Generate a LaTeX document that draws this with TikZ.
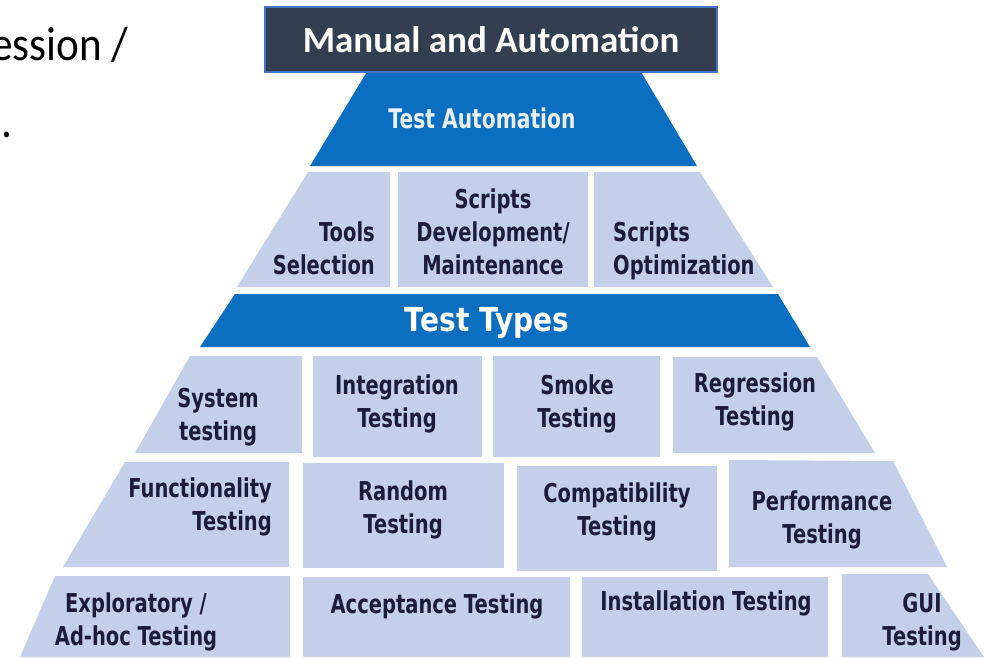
\documentclass[tikz,border=0pt]{standalone}
\usepackage{fontspec}
\setmainfont{Carlito}
\newfontfamily\pyrfont[FakeStretch=0.75]{DejaVu Sans}
\newfontfamily\typesfont[FakeStretch=0.85]{DejaVu Sans}
\newfontfamily\slidefont[FakeStretch=0.9]{Carlito}
\definecolor{cellfill}{RGB}{196,207,234}
\definecolor{barblue}{RGB}{11,110,192}
\definecolor{lbltext}{RGB}{28,28,58}
\definecolor{titlefill}{RGB}{51,63,80}
\definecolor{titleborder}{RGB}{68,114,196}
\begin{document}
\begin{tikzpicture}[x=1pt,y=-1pt,
  cell/.style={fill=cellfill},
  bar/.style={fill=barblue},
  lbl/.style={font=\pyrfont\bfseries\fontsize{26}{33}\selectfont, text=lbltext, inner sep=0pt},
  slidetext/.style={font=\slidefont\fontsize{48}{58}\selectfont, text=black, inner sep=0pt}]
\useasboundingbox (0,0) rectangle (984,657);
\fill[white] (0,0) rectangle (984,657);

% cut-off slide text
\node[slidetext, anchor=base west] (slideA) at (-9,60) {ession /};
\node[slidetext, anchor=base west] (slideB) at (1,137) {.};

% level 1: Test Automation
\fill[bar] (374,60) -- (634,60) -- (697,166) -- (310,166) -- cycle;
\node[font=\pyrfont\bfseries\fontsize{27}{33}\selectfont, text={rgb,255:red,234;green,240;blue,248}, inner sep=0pt, anchor=base] (auto) at (482,128) {Test Automation};

% title box
\node[draw=titleborder, line width=1.5pt, fill=titlefill, minimum width=452pt, minimum height=65pt, inner sep=0pt, text=white, font=\bfseries\fontsize{37}{44}\selectfont] (title) at (491,39.5) {Manual and Automation};

% level 2
\fill[cell] (308,172) -- (390,172) -- (390,287) -- (237,287) -- cycle;
\fill[cell] (398,172) rectangle (588,287);
\fill[cell] (594,172) -- (700,172) -- (773,287) -- (594,287) -- cycle;
\node[lbl, align=right, anchor=east] (tools) at (375,248) {Tools\\Selection};
\node[lbl, align=center] (dev) at (493,232) {Scripts\\Development/\\Maintenance};
\node[lbl, align=left, anchor=west] (opt) at (613,251) {Scripts\\Optimization};

% Test Types bar
\fill[bar] (235,294) -- (778,294) -- (810,347) -- (200,347) -- cycle;
\node[font=\typesfont\bfseries\fontsize{33}{40}\selectfont, text=white, inner sep=0pt, anchor=base] (types) at (487,331) {Test Types};

% level 3
\fill[cell] (190,356) -- (302,356) -- (302,453) -- (135,453) -- cycle;
\fill[cell] (313,356) rectangle (482,457);
\fill[cell] (493,356) rectangle (660,457);
\fill[cell] (673,357) -- (817,357) -- (875,453) -- (673,453) -- cycle;
\node[lbl, align=center] (sys) at (218,417) {System\\testing};
\node[lbl, align=center] (integ) at (397,403.5) {Integration\\Testing};
\node[lbl, align=center] (smoke) at (577,403.5) {Smoke\\Testing};
\node[lbl, align=center] (regr) at (755,402) {Regression\\Testing};

% level 4
\fill[cell] (125,462) -- (289,462) -- (289,567) -- (63,567) -- cycle;
\fill[cell] (303,463) rectangle (504,568);
\fill[cell] (517,466) rectangle (717,571);
\fill[cell] (729,460) -- (893,461) -- (947,567) -- (729,567) -- cycle;
\node[lbl, align=right, anchor=east] (func) at (272,507) {Functionality\\Testing};
\node[lbl, align=center] (rand) at (403,509.5) {Random\\Testing};
\node[lbl, align=center] (compat) at (617,512) {Compatibility\\Testing};
\node[lbl, align=center] (perf) at (822,520) {Performance\\Testing};

% level 5
\fill[cell] (55,576) -- (290,576) -- (290,657) -- (20,657) -- cycle;
\fill[cell] (303,577) rectangle (570,657);
\fill[cell] (582,577) rectangle (828,657);
\fill[cell] (842,574) -- (928,574) -- (984,657) -- (842,657) -- cycle;
\node[lbl, align=center] (explo) at (136,622) {Exploratory /\\Ad-hoc Testing};
\node[lbl, anchor=base] (accept) at (437,613) {Acceptance Testing};
\node[lbl, anchor=base] (install) at (706,610) {Installation Testing};
\node[lbl, align=center] (gui) at (922,622) {GUI\\Testing};
\end{tikzpicture}
\end{document}
